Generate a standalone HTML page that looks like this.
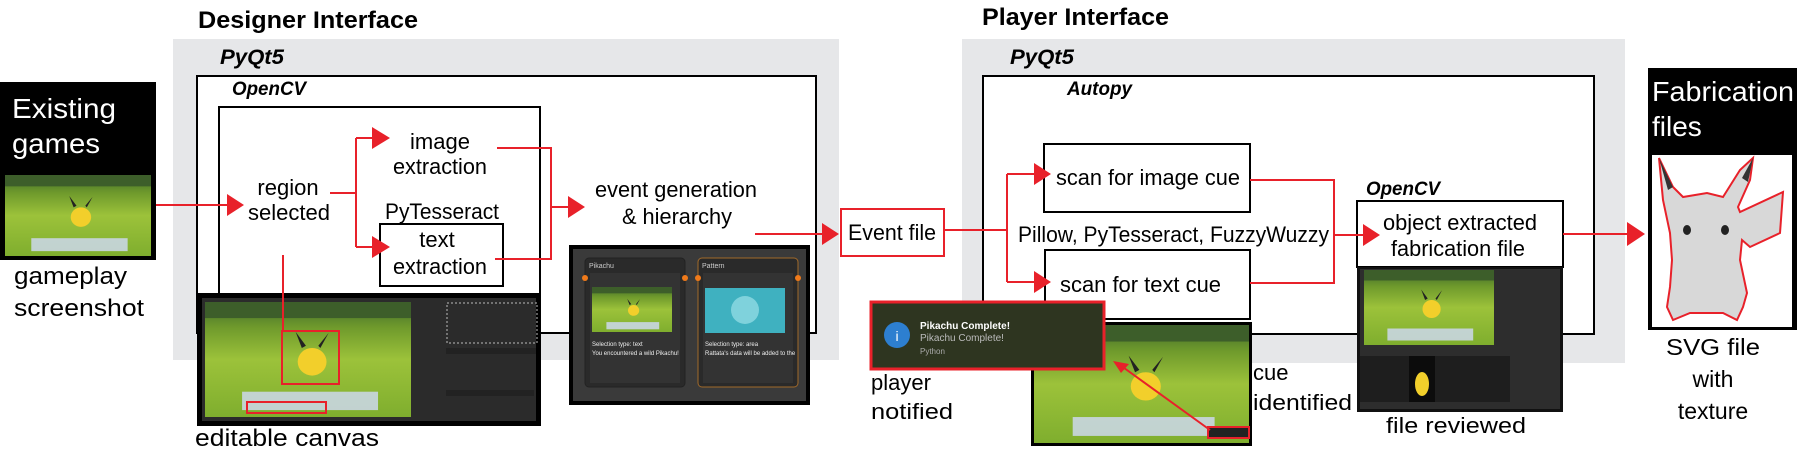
<!DOCTYPE html>
<html><head><meta charset="utf-8"><style>
html,body{margin:0;padding:0;background:#fff;}
svg{display:block;font-family:"Liberation Sans",Arial,sans-serif;}
</style></head><body>
<svg width="1804" height="456" viewBox="0 0 1804 456" xmlns="http://www.w3.org/2000/svg">
<defs>
<linearGradient id="grass" x1="0" y1="0" x2="0" y2="1">
<stop offset="0" stop-color="#3f6a2a"/><stop offset="0.22" stop-color="#6f9a2c"/><stop offset="0.5" stop-color="#9cc23a"/><stop offset="1" stop-color="#7fae2e"/>
</linearGradient>
<symbol id="game" viewBox="0 0 100 100" preserveAspectRatio="none">
<rect width="100" height="100" fill="url(#grass)"/>
<rect x="0" y="0" width="100" height="14" fill="#3d5e2a"/>
<ellipse cx="52" cy="52" rx="7" ry="12" fill="#f2cf2b"/>
<polygon points="47,40 44,26 49,38" fill="#222"/><polygon points="56,40 60,27 55,38" fill="#222"/>
<rect x="18" y="78" width="66" height="16" fill="#c9d6e2" opacity="0.9"/>
</symbol>
</defs>

<text x="198" y="28" font-size="24" font-weight="bold" textLength="220" lengthAdjust="spacingAndGlyphs">Designer Interface</text>
<text x="982" y="25" font-size="24" font-weight="bold" textLength="187" lengthAdjust="spacingAndGlyphs">Player Interface</text>

<rect x="173" y="39" width="666" height="321" fill="#e6e7e9"/>
<rect x="962" y="39" width="663" height="324" fill="#e6e7e9"/>
<text x="220" y="64" font-size="21" font-weight="bold" font-style="italic" textLength="64" lengthAdjust="spacingAndGlyphs">PyQt5</text>
<text x="1010" y="64" font-size="21" font-weight="bold" font-style="italic" textLength="64" lengthAdjust="spacingAndGlyphs">PyQt5</text>

<rect x="197" y="76" width="619" height="257" fill="#fff" stroke="#000" stroke-width="2"/>
<text x="232" y="95" font-size="19" font-weight="bold" font-style="italic" textLength="74" lengthAdjust="spacingAndGlyphs">OpenCV</text>
<rect x="219" y="107" width="321" height="190" fill="#fff" stroke="#000" stroke-width="2"/>

<g font-size="22" text-anchor="middle">
<text x="288" y="195">region</text>
<text x="289" y="220" textLength="82" lengthAdjust="spacingAndGlyphs">selected</text>
<text x="440" y="149">image</text>
<text x="440" y="174" textLength="94" lengthAdjust="spacingAndGlyphs">extraction</text>
<text x="442" y="219" textLength="114" lengthAdjust="spacingAndGlyphs">PyTesseract</text>
<text x="676" y="197" textLength="162" lengthAdjust="spacingAndGlyphs">event generation</text>
<text x="677" y="224" textLength="110" lengthAdjust="spacingAndGlyphs">&amp; hierarchy</text>
</g>
<rect x="380" y="224" width="123" height="62" fill="#fff" stroke="#000" stroke-width="2"/>
<g font-size="22" text-anchor="middle">
<text x="437" y="247">text</text>
<text x="440" y="274" textLength="94" lengthAdjust="spacingAndGlyphs">extraction</text>
</g>

<rect x="0" y="82" width="156" height="178" fill="#000"/>
<text x="12" y="118" font-size="28" fill="#fff" textLength="104" lengthAdjust="spacingAndGlyphs">Existing</text>
<text x="12" y="153" font-size="28" fill="#fff" textLength="88" lengthAdjust="spacingAndGlyphs">games</text>
<use href="#game" x="5" y="175" width="146" height="81"/>
<g font-size="24">
<text x="14" y="284" textLength="113" lengthAdjust="spacingAndGlyphs">gameplay</text>
<text x="14" y="316" textLength="130" lengthAdjust="spacingAndGlyphs">screenshot</text>
</g>

<rect x="197" y="293" width="344" height="133" fill="#000"/>
<rect x="202" y="298" width="334" height="123" fill="#2b2b2b"/>
<use href="#game" x="205" y="302" width="206" height="115"/>
<rect x="447" y="303" width="90" height="40" fill="none" stroke="#bbb" stroke-width="1" stroke-dasharray="2,2"/>
<rect x="446" y="348" width="90" height="6" fill="#222"/>
<rect x="446" y="390" width="88" height="6" fill="#222"/>
<rect x="282" y="331" width="57" height="53" fill="none" stroke="#e8212a" stroke-width="2"/>
<rect x="247" y="402" width="79" height="11" fill="none" stroke="#e8212a" stroke-width="2"/>
<text x="195" y="446" font-size="24" textLength="184" lengthAdjust="spacingAndGlyphs">editable canvas</text>

<rect x="569" y="245" width="241" height="160" fill="#000"/>
<rect x="573" y="249" width="233" height="152" fill="#3a3a3a"/>
<rect x="585" y="258" width="100" height="129" rx="4" fill="#2a2a2a" stroke="#222"/>
<rect x="698" y="258" width="100" height="129" rx="4" fill="#2a2a2a" stroke="#a0692a"/>
<rect x="590" y="273" width="90" height="110" fill="#333"/>
<rect x="703" y="273" width="90" height="110" fill="#333"/>
<use href="#game" x="592" y="287" width="80" height="45"/>
<rect x="705" y="288" width="80" height="45" fill="#3fb1c0"/>
<circle cx="745" cy="310" r="14" fill="#7fd2dc"/>
<text x="589" y="268" font-size="7" fill="#ccc">Pikachu</text>
<text x="702" y="268" font-size="7" fill="#ccc">Pattern</text>
<text x="592" y="346" font-size="6" fill="#eee">Selection type: text</text>
<text x="592" y="355" font-size="6" fill="#eee">You encountered a wild Pikachu!</text>
<text x="705" y="346" font-size="6" fill="#eee">Selection type: area</text>
<text x="705" y="355" font-size="6" fill="#eee">Rattata's data will be added to the</text>
<circle cx="585" cy="278" r="3" fill="#f07a1a"/><circle cx="685" cy="278" r="3" fill="#f07a1a"/>
<circle cx="698" cy="278" r="3" fill="#f07a1a"/><circle cx="798" cy="278" r="3" fill="#f07a1a"/>

<g stroke="#e8212a" stroke-width="2" fill="none">
<line x1="156" y1="205" x2="228" y2="205"/>
<polyline points="330,193 356,193"/>
<line x1="356" y1="138" x2="356" y2="247"/>
<line x1="356" y1="138" x2="373" y2="138"/>
<line x1="356" y1="247" x2="373" y2="247"/>
<polyline points="497,148 551,148 551,259 495,259"/>
<line x1="551" y1="207" x2="569" y2="207"/>
<line x1="755" y1="234" x2="823" y2="234"/>
</g>
<g fill="#e8212a">
<polygon points="227,194 244,205 227,216"/>
<polygon points="372,127 390,138 372,149"/>
<polygon points="372,236 390,247 372,258"/>
<polygon points="568,196 585,207 568,218"/>
<polygon points="822,223 839,234 822,245"/>
</g>
<line x1="283" y1="255" x2="283" y2="331" stroke="#e8212a" stroke-width="2"/>

<rect x="841" y="209" width="103" height="47" fill="#fff" stroke="#e8212a" stroke-width="2"/>
<text x="892" y="240" font-size="22" text-anchor="middle" textLength="88" lengthAdjust="spacingAndGlyphs">Event file</text>

<rect x="983" y="76" width="611" height="258" fill="#fff" stroke="#000" stroke-width="2"/>
<text x="1067" y="95" font-size="19" font-weight="bold" font-style="italic" textLength="65" lengthAdjust="spacingAndGlyphs">Autopy</text>
<rect x="1044" y="144" width="206" height="68" fill="#fff" stroke="#000" stroke-width="2"/>
<rect x="1045" y="250" width="205" height="69" fill="#fff" stroke="#000" stroke-width="2"/>
<g font-size="22">
<text x="1056" y="185" textLength="184" lengthAdjust="spacingAndGlyphs">scan for image cue</text>
<text x="1060" y="292" textLength="161" lengthAdjust="spacingAndGlyphs">scan for text cue</text>
<text x="1018" y="242" textLength="311" lengthAdjust="spacingAndGlyphs">Pillow, PyTesseract, FuzzyWuzzy</text>
</g>

<text x="1366" y="195" font-size="19" font-weight="bold" font-style="italic" textLength="74" lengthAdjust="spacingAndGlyphs">OpenCV</text>
<rect x="1357" y="201" width="206" height="66" fill="#fff" stroke="#000" stroke-width="2"/>
<g font-size="22" text-anchor="middle">
<text x="1460" y="230" textLength="154" lengthAdjust="spacingAndGlyphs">object extracted</text>
<text x="1458" y="256" textLength="134" lengthAdjust="spacingAndGlyphs">fabrication file</text>
</g>

<g stroke="#e8212a" stroke-width="2" fill="none">
<line x1="944" y1="230" x2="1007" y2="230"/>
<line x1="1007" y1="174" x2="1007" y2="282"/>
<line x1="1007" y1="174" x2="1036" y2="174"/>
<line x1="1007" y1="282" x2="1036" y2="282"/>
<polyline points="1250,180 1334,180 1334,283 1250,283"/>
<line x1="1334" y1="235" x2="1365" y2="235"/>
<line x1="1563" y1="234" x2="1629" y2="234"/>
</g>
<g fill="#e8212a">
<polygon points="1034,163 1051,174 1034,185"/>
<polygon points="1034,271 1051,282 1034,293"/>
<polygon points="1363,224 1380,235 1363,246"/>
<polygon points="1627,222 1645,234 1627,246"/>
</g>

<rect x="1357" y="267" width="206" height="145" fill="#111"/>
<rect x="1360" y="269" width="200" height="140" fill="#2d2d2d"/>
<use href="#game" x="1364" y="270" width="130" height="75"/>
<rect x="1360" y="356" width="150" height="46" fill="#1e1e1e"/>
<rect x="1409" y="356" width="26" height="46" fill="#0c0c0c"/>
<ellipse cx="1422" cy="384" rx="7" ry="12" fill="#f2cf2b"/>
<text x="1456" y="433" font-size="22" text-anchor="middle" textLength="140" lengthAdjust="spacingAndGlyphs">file reviewed</text>

<rect x="1031" y="322" width="221" height="124" fill="#000"/>
<use href="#game" x="1034" y="325" width="215" height="118"/>
<rect x="1208" y="427" width="41" height="11" fill="#222" stroke="#e8212a" stroke-width="2"/>
<line x1="1210" y1="430" x2="1120" y2="365" stroke="#e8212a" stroke-width="2"/>
<polygon points="1113,361 1129,364 1121,373" fill="#e8212a"/>
<g font-size="22">
<text x="1253" y="380">cue</text>
<text x="1253" y="410" textLength="99" lengthAdjust="spacingAndGlyphs">identified</text>
</g>

<rect x="871" y="302" width="233" height="67" fill="#2e3520" stroke="#e8212a" stroke-width="3"/>
<circle cx="897" cy="335" r="13" fill="#2d7fd0"/>
<text x="897" y="341" font-size="14" fill="#fff" text-anchor="middle">i</text>
<text x="920" y="329" font-size="10" font-weight="bold" fill="#fff">Pikachu Complete!</text>
<text x="920" y="341" font-size="10" fill="#bbb">Pikachu Complete!</text>
<text x="920" y="354" font-size="8" fill="#aaa">Python</text>
<g font-size="22">
<text x="871" y="390">player</text>
<text x="871" y="419" textLength="82" lengthAdjust="spacingAndGlyphs">notified</text>
</g>

<rect x="1648" y="68" width="149" height="262" fill="#000"/>
<rect x="1652" y="155" width="140" height="172" fill="#fff"/>
<text x="1652" y="101" font-size="28" fill="#fff" textLength="142" lengthAdjust="spacingAndGlyphs">Fabrication</text>
<text x="1652" y="136" font-size="28" fill="#fff">files</text>
<path d="M1659,158 L1673,187 L1683,197 L1707,193 L1723,197 L1740,170 L1753,158 L1750,180 L1738,207 L1740,212 L1783,192 L1780,233 L1750,247 L1742,240 L1740,260 L1747,293 L1743,307 L1737,320 L1723,313 L1690,313 L1673,320 L1667,307 L1670,287 L1672,260 L1670,233 L1663,200 Z" fill="#d8d8d8" stroke="#e8212a" stroke-width="2"/>
<path d="M1659,158 L1673,187 L1668,190 Z" fill="#333"/>
<path d="M1753,158 L1748,182 L1742,178 Z" fill="#333"/>
<ellipse cx="1687" cy="230" rx="4" ry="5" fill="#222"/>
<ellipse cx="1725" cy="230" rx="4" ry="5" fill="#222"/>
<g font-size="23" text-anchor="middle">
<text x="1713" y="355" textLength="94" lengthAdjust="spacingAndGlyphs">SVG file</text>
<text x="1713" y="387" font-size="23">with</text>
<text x="1713" y="419" font-size="23">texture</text>
</g>
</svg>
</body></html>
